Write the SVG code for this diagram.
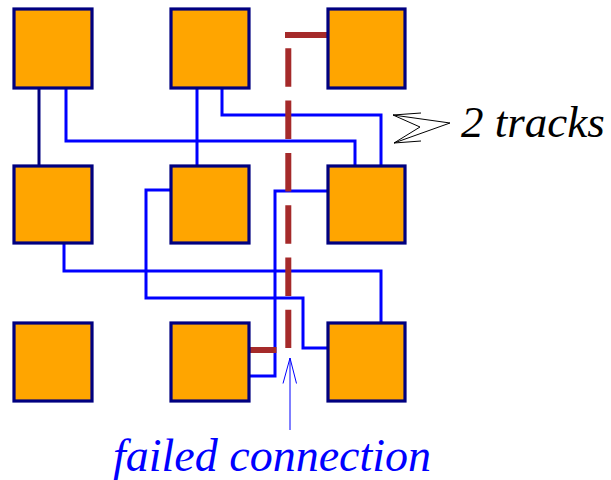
<svg xmlns="http://www.w3.org/2000/svg" width="611" height="480" viewBox="0 0 611 480">
<style>
.box{fill:#ffa500;stroke:#000080;stroke-width:3.2}
.w{fill:none;stroke:#0000ff;stroke-width:3}
.n{fill:none;stroke:#000080;stroke-width:3}
.r{fill:none;stroke:#a52a2a;stroke-width:6}
.lbl{font-family:"Liberation Serif","Times New Roman",serif;font-style:italic}
</style>
<rect width="611" height="480" fill="#ffffff"/>
<g id="connectors">
<path class="n" d="M39,88 V166"/>
<path class="w" d="M66,88 V141 H355 V166"/>
<path class="w" d="M197,88 V166"/>
<path class="w" d="M222,88 V115 H381 V166"/>
<path class="w" d="M171,190 H146 V298 H303 V348 H328"/>
<path class="w" d="M328,191 H275 V376 H249"/>
<path class="w" d="M64,244 V271 H381 V323"/>
<path class="r" d="M327,35 H285"/>
<path class="r" d="M288.3,48.3 V348" stroke-dasharray="38.5 13.8"/>
<path class="r" d="M249,350 H276.5"/>
</g>
<g id="n1"><rect class="box" x="14" y="9" width="78" height="79"/></g>
<g id="n2"><rect class="box" x="171" y="9" width="78" height="79"/></g>
<g id="n3"><rect class="box" x="328" y="9" width="77" height="79"/></g>
<g id="n4"><rect class="box" x="14" y="166" width="78" height="77"/></g>
<g id="n5"><rect class="box" x="171" y="166" width="78" height="77"/></g>
<g id="n6"><rect class="box" x="328" y="166" width="77" height="77"/></g>
<g id="n7"><rect class="box" x="14" y="323" width="78" height="78"/></g>
<g id="n8"><rect class="box" x="171" y="323" width="78" height="78"/></g>
<g id="n9"><rect class="box" x="328" y="323" width="77" height="78"/></g>
<g id="tracks-label">
<path d="M421,113 L393,115 L420,127 L394,143 L421,141 M393,115 L450,123 L394,143" fill="none" stroke="#000000" stroke-width="1"/>
<text class="lbl" x="461" y="137" fill="#000000" font-size="45">2 tracks</text>
</g>
<g id="failed-label">
<path d="M290,430 V358 M283,383.5 L290,358 L296.5,383.5" fill="none" stroke="#0000ff" stroke-width="1"/>
<text class="lbl" x="113" y="471" fill="#0000ff" font-size="46">failed connection</text>
</g>
</svg>
